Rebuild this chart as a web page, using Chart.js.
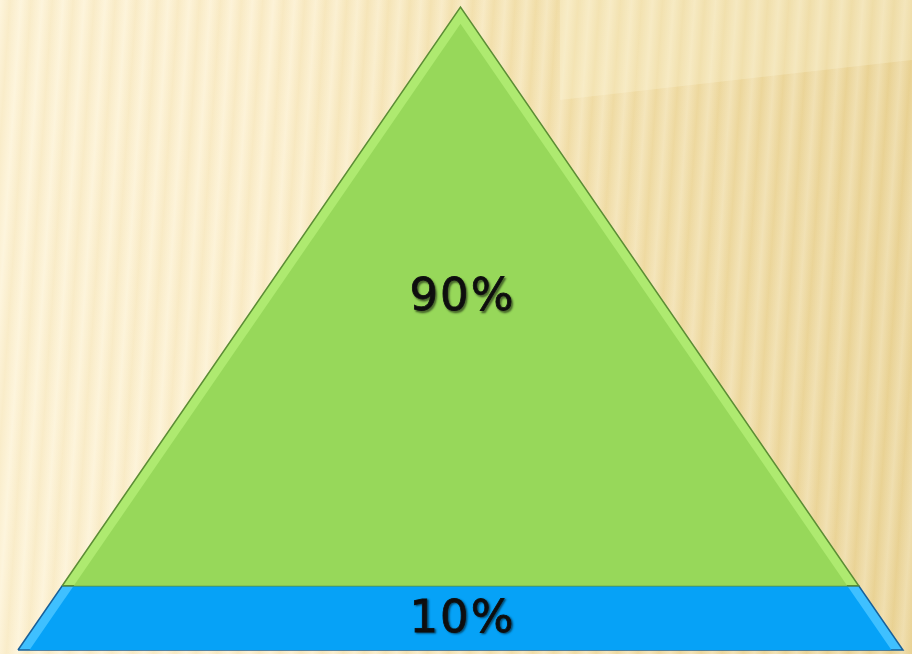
<!DOCTYPE html>
<html lang="en">
<head>
<meta charset="UTF-8">
<title>Pyramid</title>
<script src="https://cdn.jsdelivr.net/npm/chart.js"></script>
<style>
    html, body { margin: 0; padding: 0; }
    .wrap {
        position: relative;
        width: 912px;
        height: 654px;
        overflow: hidden;
        background:
            repeating-linear-gradient(94deg,
                rgba(255, 255, 255, 0.22) 0px,
                rgba(200, 160, 70, 0.07) 10px,
                rgba(255, 255, 255, 0.22) 21px),
            linear-gradient(90deg, #fdf2d3 0%, #fcefcc 30%, #f4e2af 58%, #ebd598 100%);
    }
    .glow {
        position: absolute;
        left: 0; top: 0; width: 912px; height: 654px;
        background: rgba(255, 250, 225, 0.25);
        clip-path: polygon(560px 0, 912px 0, 912px 60px, 560px 100px);
    }
    .chart-container {
        position: absolute;
        left: 0; top: 0;
        width: 912px;
        height: 654px;
    }
</style>
</head>
<body>
<div class="wrap">
    <div class="glow"></div>
    <div class="chart-container">
        <canvas id="pyramid"></canvas>
    </div>
</div>
<script>
// segments listed bottom to top
const segments = ['Bottom', 'Top'];
const values = [10, 90];
const valueLabels = ['10%', '90%'];

const fillColors = ['#06a2f7', '#97d85a'];
const bevelColors = ['#3fc0ff', '#aeea70'];
const edgeColors = ['#17609a', '#5b8d34'];

const BEVEL = 1.3; // inset in x units

// half width of the pyramid at height h (0..100)
function halfWidth(h) {
    return 50 * (1 - h / 100);
}

function segmentPoints(bottom, top, inset) {
    let t = top;
    const apex = 100 * (1 - inset / 50);
    if (t > apex) t = apex;
    const wb = halfWidth(bottom) - inset;
    const wt = Math.max(halfWidth(t) - inset, 0);
    return [
        { x: -wb, y: bottom },
        { x: wb, y: bottom },
        { x: wt, y: t },
        { x: -wt, y: t },
        { x: -wb, y: bottom }
    ];
}

const total = values.reduce((a, b) => a + b, 0);
const ranges = [];
let acc = 0;
values.forEach(v => {
    const b = acc / total * 100;
    acc += v;
    ranges.push([b, acc / total * 100]);
});

const datasets = [];
ranges.forEach((r, i) => {
    datasets.push({
        label: segments[i] + ' edge',
        data: segmentPoints(r[0], r[1], 0),
        showLine: true,
        fill: 'shape',
        backgroundColor: bevelColors[i],
        borderColor: edgeColors[i],
        borderWidth: 1.5,
        pointRadius: 0,
        order: 10 - i * 2
    });
    datasets.push({
        label: segments[i],
        data: segmentPoints(r[0], r[1], BEVEL),
        showLine: true,
        fill: 'shape',
        backgroundColor: fillColors[i],
        borderColor: 'rgba(0,0,0,0)',
        borderWidth: 0,
        pointRadius: 0,
        order: 9 - i * 2
    });
});

const labelPlugin = {
    id: 'segmentLabels',
    afterDatasetsDraw(chart) {
        const ctx = chart.ctx;
        const xs = chart.scales.x;
        const ys = chart.scales.y;
        ctx.save();
        ctx.font = '45px "DejaVu Sans", sans-serif';
        ctx.letterSpacing = '2px';
        ctx.textAlign = 'center';
        ctx.textBaseline = 'middle';
        ctx.fillStyle = '#101010';
        ctx.strokeStyle = '#101010';
        ctx.lineWidth = 0.8;
        ctx.shadowColor = 'rgba(0,0,0,0.5)';
        ctx.shadowOffsetX = 1.5;
        ctx.shadowOffsetY = 1.5;
        ctx.shadowBlur = 2;
        ranges.forEach((r, i) => {
            const px = xs.getPixelForValue(0) + 2;
            const py = ys.getPixelForValue((r[0] + r[1]) / 2) + 2;
            ctx.fillText(valueLabels[i], px, py);
            ctx.strokeText(valueLabels[i], px, py);
        });
        ctx.restore();
    }
};

const ctx = document.getElementById('pyramid').getContext('2d');
const chart = new Chart(ctx, {
    type: 'scatter',
    data: { datasets: datasets },
    options: {
        responsive: true,
        maintainAspectRatio: false,
        animation: false,
        clip: false,
        layout: { padding: 0 },
        scales: {
            x: { type: 'linear', display: false, min: -52.03, max: 51.02 },
            y: { type: 'linear', display: false, min: -0.62, max: 101.09 }
        },
        elements: { line: { tension: 0 } },
        plugins: {
            legend: { display: false },
            tooltip: { enabled: false }
        }
    },
    plugins: [labelPlugin]
});
</script>
</body>
</html>
